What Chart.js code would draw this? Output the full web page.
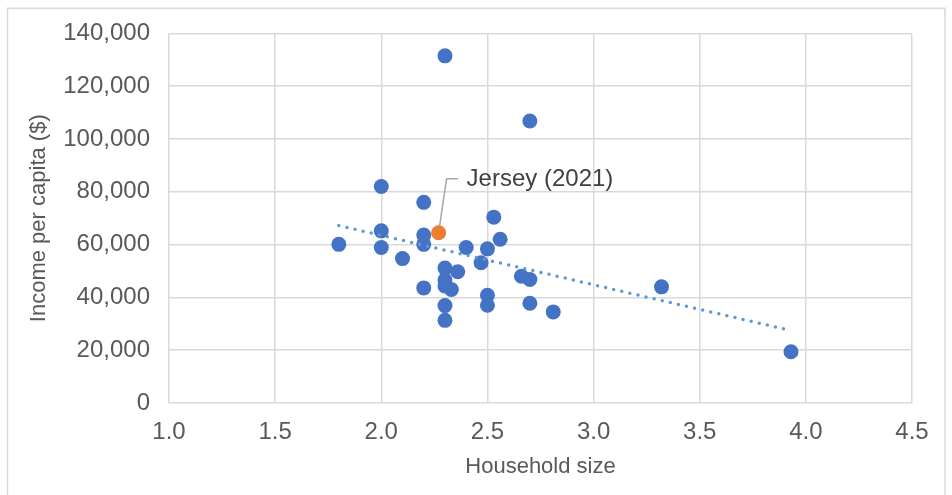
<!DOCTYPE html>
<html>
<head>
<meta charset="utf-8">
<script src="https://cdn.jsdelivr.net/npm/chart.js@4/dist/chart.umd.min.js"></script>
<style>
  html, body { margin: 0; padding: 0; background: #ffffff; }
  canvas { display: block; }
</style>
</head>
<body>
<canvas id="chart" width="952" height="495"></canvas>
<script>
// Average household size and income per capita ($), one pair per jurisdiction
const householdSize = [
  1.80, 2.00, 2.00, 2.00, 2.10, 2.20, 2.20, 2.20, 2.20, 2.30,
  2.30, 2.30, 2.30, 2.33, 2.30, 2.30, 2.36, 2.40, 2.47, 2.50,
  2.50, 2.50, 2.53, 2.56, 2.66, 2.70, 2.70, 2.70, 2.81, 3.32,
  3.93
];
const incomePerCapita = [
  60100, 82000, 65200, 58900, 54700, 76000, 63600, 60100, 43600, 131500,
  51100, 46600, 44300, 43000, 36900, 31300, 49700, 58900, 53100, 58400,
  40800, 37000, 70400, 62000, 48000, 106800, 46800, 37800, 34500, 44000,
  19400
];

// Highlighted point
const highlightLabel = 'Jersey (2021)';
const highlightSize = [2.27];
const highlightIncome = [64500];

// Axis ticks
const xTicks = [1.0, 1.5, 2.0, 2.5, 3.0, 3.5, 4.0, 4.5];
const yTicks = [0, 20000, 40000, 60000, 80000, 100000, 120000, 140000];

const FONT = "'Liberation Sans', Arial, sans-serif";
const GRID = '#D9D9D9';
const TEXT = '#595959';

const points = householdSize.map((x, i) => ({ x, y: incomePerCapita[i] }));
const highlight = highlightSize.map((x, i) => ({ x, y: highlightIncome[i] }));

// Least-squares linear trend through the blue series
function linearTrend(xs, ys) {
  const n = xs.length;
  const mx = xs.reduce((a, b) => a + b, 0) / n;
  const my = ys.reduce((a, b) => a + b, 0) / n;
  let sxy = 0, sxx = 0;
  for (let i = 0; i < n; i++) {
    sxy += (xs[i] - mx) * (ys[i] - my);
    sxx += (xs[i] - mx) * (xs[i] - mx);
  }
  const slope = sxy / sxx;
  const x0 = Math.min(...xs), x1 = Math.max(...xs);
  return [
    { x: x0, y: my + slope * (x0 - mx) },
    { x: x1, y: my + slope * (x1 - mx) }
  ];
}
const trend = linearTrend(householdSize, incomePerCapita);

// Light frame around the whole chart
const frame = {
  id: 'frame',
  beforeDraw(chart) {
    const ctx = chart.ctx;
    ctx.save();
    ctx.fillStyle = '#ffffff';
    ctx.fillRect(0, 0, chart.width, chart.height);
    ctx.strokeStyle = GRID;
    ctx.lineWidth = 1.5;
    ctx.strokeRect(7.5, 8.25, 937.5, 500);
    ctx.restore();
  }
};

// Leader line and callout text for the highlighted point
const callout = {
  id: 'callout',
  beforeDatasetsDraw(chart) {
    const { x, y } = chart.scales;
    const px = x.getPixelForValue(highlight[0].x);
    const py = y.getPixelForValue(highlight[0].y);
    const ctx = chart.ctx;
    ctx.save();
    ctx.strokeStyle = '#A6A6A6';
    ctx.lineWidth = 1.5;
    ctx.beginPath();
    ctx.moveTo(px + 19.5, py - 54);
    ctx.lineTo(px + 8, py - 54);
    ctx.lineTo(px, py);
    ctx.stroke();
    ctx.restore();
  },
  afterDatasetsDraw(chart) {
    const { x, y } = chart.scales;
    const px = x.getPixelForValue(highlight[0].x);
    const py = y.getPixelForValue(highlight[0].y);
    const ctx = chart.ctx;
    ctx.save();
    ctx.fillStyle = '#404040';
    ctx.font = '24px ' + FONT;
    ctx.textAlign = 'left';
    ctx.textBaseline = 'middle';
    ctx.fillText(highlightLabel, px + 28, py - 53);
    ctx.restore();
  }
};

new Chart(document.getElementById('chart'), {
  type: 'scatter',
  data: {
    datasets: [
      {
        type: 'line',
        label: 'Linear trend',
        data: trend,
        borderColor: '#5B9BD5',
        borderWidth: 3.5,
        borderDash: [0, 8.3],
        borderCapStyle: 'round',
        pointRadius: 0,
        fill: false,
        tension: 0
      },
      {
        label: highlightLabel,
        data: highlight,
        backgroundColor: '#ED7D31',
        borderWidth: 0,
        pointRadius: 7.5,
        pointHoverRadius: 7.5
      },
      {
        label: 'Income per capita',
        data: points,
        backgroundColor: '#4472C4',
        borderWidth: 0,
        pointRadius: 7.5,
        pointHoverRadius: 7.5
      }
    ]
  },
  options: {
    responsive: false,
    animation: false,
    events: [],
    layout: { padding: { left: 0, right: 40, top: 30, bottom: 0 } },
    plugins: {
      legend: { display: false },
      tooltip: { enabled: false }
    },
    scales: {
      x: {
        type: 'linear',
        min: xTicks[0],
        max: xTicks[xTicks.length - 1],
        afterBuildTicks(scale) { scale.ticks = xTicks.map(v => ({ value: v })); },
        afterFit(scale) { scale.height = 92; },
        grid: { color: GRID, lineWidth: 1.5, drawTicks: false },
        border: { display: false },
        ticks: {
          padding: 15,
          color: TEXT,
          font: { family: FONT, size: 24 },
          callback: v => Number(v).toFixed(1)
        },
        title: {
          display: true,
          text: 'Household size',
          color: TEXT,
          font: { family: FONT, size: 22 },
          padding: { top: 0, bottom: 15 }
        }
      },
      y: {
        type: 'linear',
        min: yTicks[0],
        max: yTicks[yTicks.length - 1],
        afterBuildTicks(scale) { scale.ticks = yTicks.map(v => ({ value: v })); },
        afterFit(scale) { scale.width = 169; },
        grid: { color: GRID, lineWidth: 1.5, drawTicks: false },
        border: { display: false },
        ticks: {
          padding: 19,
          color: TEXT,
          font: { family: FONT, size: 24 },
          callback: v => Number(v).toLocaleString('en-US')
        },
        title: {
          display: true,
          text: 'Income per capita ($)',
          color: TEXT,
          font: { family: FONT, size: 22 },
          padding: { top: 26, bottom: 0 }
        }
      }
    }
  },
  plugins: [frame, callout]
});
</script>
</body>
</html>
